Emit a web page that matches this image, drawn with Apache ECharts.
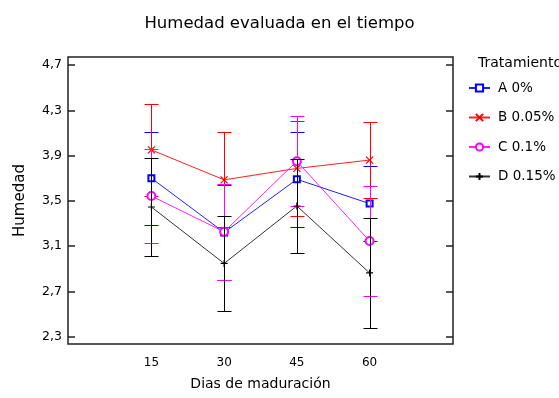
<!DOCTYPE html>
<html>
<head>
<meta charset="utf-8">
<script src="https://cdn.jsdelivr.net/npm/echarts@6/dist/echarts.min.js"></script>
<style>
  html, body { margin: 0; padding: 0; background: #fff; }
  #chart { width: 559px; height: 398px; }
</style>
</head>
<body>
<div id="chart"></div>
<script>
// Días de maduración (x) and tick values on the humidity axis
const days = [15, 30, 45, 60];
const yTicks = [2.3, 2.7, 3.1, 3.5, 3.9, 4.3, 4.7];

// Treatment names
const names = ['A 0%', 'B 0.05%', 'C 0.1%', 'D 0.15%'];

// Mean humidity per treatment and the half-width of each interval
const meanA = [3.70, 3.22, 3.69, 3.475];
const halfA = [0.41, 0.42, 0.418, 0.33];
const meanB = [3.95, 3.685, 3.786, 3.86];
const halfB = [0.405, 0.42, 0.421, 0.335];
const meanC = [3.542, 3.226, 3.85, 3.144];
const halfC = [0.417, 0.424, 0.40, 0.487];
const meanD = [3.445, 2.946, 3.454, 2.862];
const halfD = [0.431, 0.422, 0.413, 0.483];

const colors = ['#0000ff', '#ff0000', '#ff00ff', '#000000'];
const lineColors = ['#2020ff', '#ff2020', '#ff20ff', '#333333'];
const symbols = [
  'emptyRect',
  'path://M0,0L10,10M10,0L0,10',
  'emptyCircle',
  'path://M0,5L10,5M5,0L5,10'
];
const symbolSizes = [6, 7, 8, 7];

const means = [meanA, meanB, meanC, meanD];
const halves = [halfA, halfB, halfC, halfD];

const FONT = 'DejaVu Sans';

function errorBarRender(color) {
  return function (params, api) {
    const x = api.value(0);
    const top = api.coord([x, api.value(2)]);
    const bot = api.coord([x, api.value(1)]);
    const cx = Math.round(top[0]) + 0.5;
    const yt = Math.round(top[1]) + 0.5;
    const yb = Math.round(bot[1]) + 0.5;
    const cap = 7;
    const style = { stroke: color, lineWidth: 1 };
    return {
      type: 'group',
      children: [
        { type: 'line', shape: { x1: cx, y1: yt, x2: cx, y2: yb }, style: style },
        { type: 'line', shape: { x1: cx - cap, y1: yt, x2: cx + cap, y2: yt }, style: style },
        { type: 'line', shape: { x1: cx - cap, y1: yb, x2: cx + cap, y2: yb }, style: style }
      ]
    };
  };
}

const series = [];
names.forEach(function (name, i) {
  series.push({
    name: name + ' intervalo',
    type: 'custom',
    renderItem: errorBarRender(colors[i]),
    data: days.map(function (d, k) {
      return [d, means[i][k] - halves[i][k], means[i][k] + halves[i][k]];
    }),
    z: 2 + i * 2,
    silent: true
  });
  series.push({
    name: name,
    type: 'line',
    data: days.map(function (d, k) { return [d, means[i][k]]; }),
    symbol: symbols[i],
    symbolSize: symbolSizes[i],
    showAllSymbol: true,
    lineStyle: { color: lineColors[i], width: 1 },
    itemStyle: { color: colors[i], borderColor: colors[i], borderWidth: 1.2 },
    z: 3 + i * 2,
    animation: false
  });
});

const tickStyle = { color: '#222', width: 1.5 };

const chart = echarts.init(document.getElementById('chart'), null, { renderer: 'canvas' });
chart.setOption({
  animation: false,
  backgroundColor: '#ffffff',
  title: [
    {
      text: 'Humedad evaluada en el tiempo',
      left: 'center',
      top: 10,
      textStyle: { fontFamily: FONT, fontSize: 16.5, fontWeight: 'normal', color: '#000' }
    },
    {
      text: 'Tratamiento',
      left: 478,
      top: 56,
      padding: 0,
      textStyle: { fontFamily: FONT, fontSize: 14, fontWeight: 'normal', color: '#000' }
    }
  ],
  legend: {
    data: names,
    orient: 'vertical',
    left: 468,
    top: 81,
    padding: 0,
    itemWidth: 21,
    itemHeight: 9,
    itemGap: 15.5,
    textStyle: { fontFamily: FONT, fontSize: 13.5, color: '#000', padding: [0, 0, 0, 3] }
  },
  grid: {
    left: 68,
    right: 106,
    top: 57,
    bottom: 54,
    show: true,
    borderColor: '#222',
    borderWidth: 1.5,
    backgroundColor: 'transparent',
    outerBoundsMode: 'none'
  },
  xAxis: {
    type: 'value',
    min: -2.2,
    max: 77.2,
    name: 'Dias de maduración',
    nameLocation: 'middle',
    nameGap: 33,
    nameTextStyle: { fontFamily: FONT, fontSize: 14, color: '#000' },
    axisLine: { show: false, onZero: false },
    axisTick: { show: false },
    splitLine: { show: false },
    axisLabel: {
      customValues: days,
      margin: 13,
      fontFamily: FONT,
      fontSize: 12,
      color: '#000'
    }
  },
  yAxis: [
    {
      type: 'value',
      position: 'left',
      min: 2.234,
      max: 4.771,
      name: 'Humedad',
      nameLocation: 'middle',
      nameGap: 40,
      nameTextStyle: { fontFamily: FONT, fontSize: 15, color: '#000' },
      axisLine: { show: false, onZero: false },
      splitLine: { show: false },
      axisTick: { show: true, inside: true, length: 7, customValues: yTicks, lineStyle: tickStyle },
      axisLabel: {
        customValues: yTicks,
        margin: 6,
        fontFamily: FONT,
        fontSize: 12.5,
        color: '#000',
        formatter: function (v) { return v.toFixed(1).replace('.', ','); }
      }
    },
    {
      type: 'value',
      position: 'right',
      min: 2.234,
      max: 4.771,
      axisLine: { show: false, onZero: false },
      splitLine: { show: false },
      axisTick: { show: true, inside: true, length: 7, customValues: yTicks, lineStyle: tickStyle },
      axisLabel: { show: false, customValues: yTicks }
    }
  ],
  series: series
});
</script>
</body>
</html>
